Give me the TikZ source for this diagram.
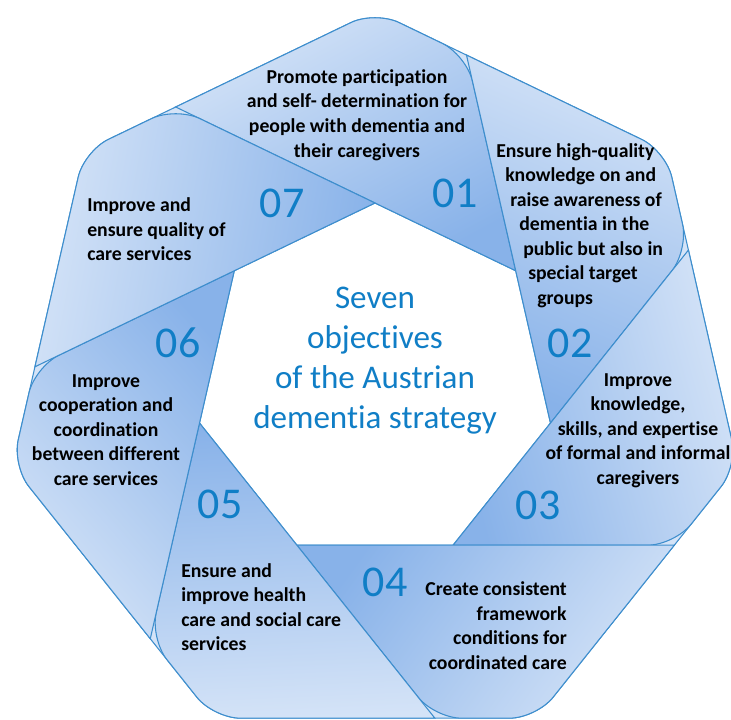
\documentclass[tikz,border=0pt]{standalone}
\usepackage{fontspec}
\setmainfont{Carlito}[Ligatures=NoCommon]

\definecolor{ringLight}{RGB}{212,227,247}
\definecolor{ringDark}{RGB}{136,178,233}
\definecolor{ringEdge}{RGB}{62,142,205}
\definecolor{numberBlue}{RGB}{16,126,198}
\tikzstyle{ringBase}=[fill=ringLight,draw=ringEdge,line width=0.8pt]
\tikzstyle{bandEdge}=[draw=ringEdge,line width=0.8pt]
\tikzstyle{bandText}=[inner sep=0pt,font=\bfseries\fontsize{14.8}{18.4}\selectfont]
\tikzstyle{bandNumber}=[inner sep=0pt,text=numberBlue,font=\fontsize{33}{36}\selectfont]
\tikzstyle{centreText}=[inner sep=0pt,text=numberBlue,align=center,font=\fontsize{24.8}{30}\selectfont]

\begin{document}
\begin{tikzpicture}[x=.75pt,y=.75pt]
\newcommand{\Rout}{372}
\newcommand{\Rin}{180}
\newcommand{\Rcorner}{20pt}
        \useasboundingbox (-375,-337) rectangle (356,383);
        % outer and inner heptagon corners
        \foreach \k in {0,...,7} {
                \coordinate (P\k) at ({90-\k*360/7}:\Rout);
                \coordinate (Q\k) at ({90-\k*360/7}:\Rin);
        }
        % inner line of a band meets the outer line of the band before it
        \foreach \n in {1,...,7} {
                \pgfmathtruncatemacro{\nm}{\n-1}
                \pgfmathtruncatemacro{\nmm}{mod(\n+5,7)}
                \coordinate (a\n) at (intersection of {Q\nm}--{Q\n} and {P\nmm}--{P\nm});
        }
        \coordinate (a8) at (a1);
        % light ring underneath
        \path[ringBase,even odd rule,rounded corners=\Rcorner]
                (P0) -- (P1) -- (P2) -- (P3) -- (P4) -- (P5) -- (P6) -- cycle
                [sharp corners] (Q0) -- (Q1) -- (Q2) -- (Q3) -- (Q4) -- (Q5) -- (Q6) -- cycle;
        % the seven bands, darker towards the inner corner
        \foreach \n in {1,...,7} {
                \pgfmathtruncatemacro{\nm}{\n-1}
                \pgfmathtruncatemacro{\np}{\n+1}
                \pgfmathsetmacro{\shadeAngle}{-(\n-0.5)*360/7-126}
                \shadedraw[bandEdge,top color=ringDark,bottom color=ringLight,shading angle=\shadeAngle]
                        (a\n) [rounded corners=\Rcorner] -- (P\nm) -- (a\np)
                        [sharp corners] -- (Q\n) -- cycle;
        }
        \node[bandText,align=center] (goalOne) at (-18,268)
                {Promote participation\\and self- determination for\\people with dementia and\\their caregivers};
        \node[bandNumber] (numOne) at (80,190) {01};
        \node[bandText,align=left,anchor=west] (goalTwo) at (121,157.5)
                {Ensure high-quality\\\hspace*{6.75pt}knowledge on and\\\hspace*{10.5pt}raise awareness of\\\hspace*{17.25pt}dementia in the\\\hspace*{20.25pt}public but also in\\\hspace*{24pt}special target\\\hspace*{30.75pt}groups};
        \node[bandNumber] (numTwo) at (195,40) {02};
        \node[bandText,align=center] (goalThree) at (263,-47.5)
                {Improve\\knowledge,\\skills, and expertise\\of formal and informal\\caregivers};
        \node[bandNumber] (numThree) at (163,-122) {03};
        \node[bandText,align=right,anchor=east] (goalFour) at (192,-242.5)
                {Create consistent\\framework\\conditions for\\coordinated care};
        \node[bandNumber] (numFour) at (10,-199) {04};
        \node[bandText,align=left,anchor=west] (goalFive) at (-194,-224)
                {Ensure and\\improve health\\care and social care\\services};
        \node[bandNumber] (numFive) at (-155,-121) {05};
        \node[bandText,align=center] (goalSix) at (-269,-47)
                {Improve\\cooperation and\\coordination\\between different\\care services};
        \node[bandNumber] (numSix) at (-197,40) {06};
        \node[bandText,align=left,anchor=west] (goalSeven) at (-288,153.5)
                {Improve and\\ensure quality of\\care services};
        \node[bandNumber] (numSeven) at (-93,180) {07};
        \node[centreText] (title) at (0,22)
                {Seven\\objectives\\of the Austrian\\dementia strategy};
\end{tikzpicture}
\end{document}
